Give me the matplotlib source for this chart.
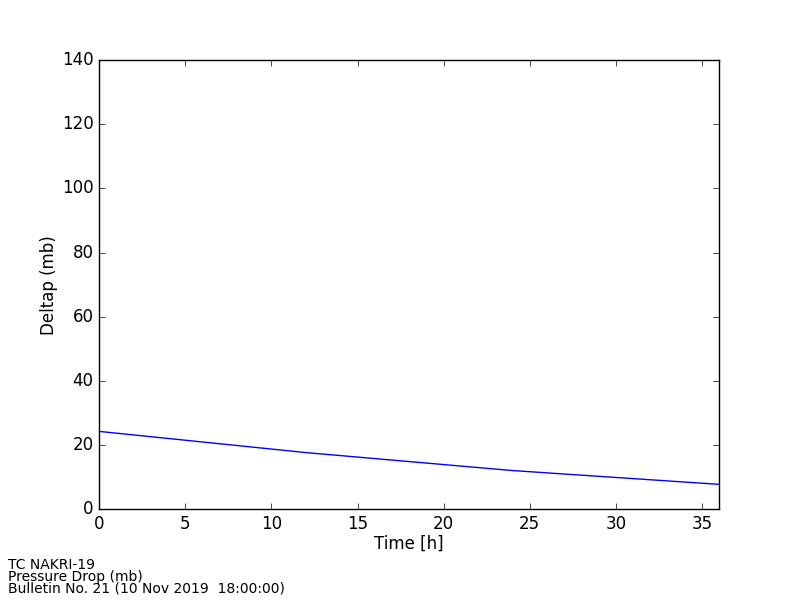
import matplotlib
matplotlib.use("Agg")
import matplotlib.pyplot as plt

# Pressure drop forecast
time_h = [0, 12, 24, 36]
deltap_mb = [24.3, 17.7, 12.1, 7.8]

info_lines = [
    "TC NAKRI-19",
    "Pressure Drop (mb)",
    "Bulletin No. 21 (10 Nov 2019  18:00:00)",
]

plt.style.use("classic")
plt.rcParams["font.family"] = ["DejaVu Sans"]

fig = plt.figure(figsize=(8, 6), dpi=100, facecolor="white")
ax = fig.add_axes([0.124, 0.151, 0.775, 0.749])

ax.plot(time_h, deltap_mb, color="blue", linewidth=1)

ax.set_xlim(0, 36)
ax.set_ylim(0, 140)
ax.set_xlabel("Time [h]", labelpad=1)
ax.set_ylabel("Deltap (mb)", labelpad=3)

fig.text(0.01, 0.007, "\n".join(info_lines), fontsize=10,
         ha="left", va="bottom", linespacing=0.81)

fig.savefig("out.png", dpi=100, facecolor="white")
